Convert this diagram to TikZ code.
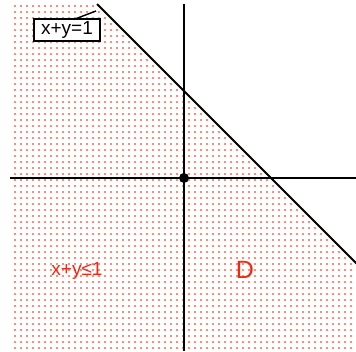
\documentclass[tikz,border=0pt]{standalone}
\usepackage{fontspec}
\setmainfont{Liberation Sans}
\definecolor{dotred}{RGB}{250,100,80}
\definecolor{txtred}{RGB}{240,40,20}
\begin{document}
\begin{tikzpicture}[x=1pt,y=-1pt,
  axis/.style={line width=1.3pt,black},
  bound/.style={line width=2pt,black},
  lbl/.style={font=\fontsize{19}{19}\selectfont,inner sep=0pt}]
\useasboundingbox (0,0) rectangle (356,351);
% dotted region
\begin{scope}
  \clip (0,0) -- (94,0) -- (356,262) -- (356,351) -- (0,351) -- cycle;
  \foreach \x in {15,21,...,355}{
    \foreach \y in {6,12,...,350}{
      \fill[dotred] (\x,\y) circle (1.15pt);
    }
  }
\end{scope}
% axes
\coordinate (xl) at (10,178);
\coordinate (xr) at (356,178);
\coordinate (yt) at (184,4);
\coordinate (yb) at (184,351);
\draw[axis] (xl) -- (xr);
\draw[axis] (yt) -- (yb);
% boundary line
\coordinate (la) at (97,4);
\coordinate (lb) at (357,264);
\draw[bound] (la) -- (lb);
% origin
\node[circle,fill=black,minimum size=10pt,inner sep=0pt] (o) at (184,178) {};
% labels
\node[draw,line width=1.4pt,fill=white,minimum width=66pt,minimum height=22pt,lbl] (eq) at (67,30) {x+y=1};
\coordinate (pin) at (96,11);
\draw[line width=1.4pt] (75,19) -- (pin);
\node[lbl,text=txtred] (ineq) at (77,271) {x+y≤1};
\node[font=\fontsize{25}{25}\selectfont,text=txtred,inner sep=0pt] (D) at (245,270) {D};
\end{tikzpicture}
\end{document}
